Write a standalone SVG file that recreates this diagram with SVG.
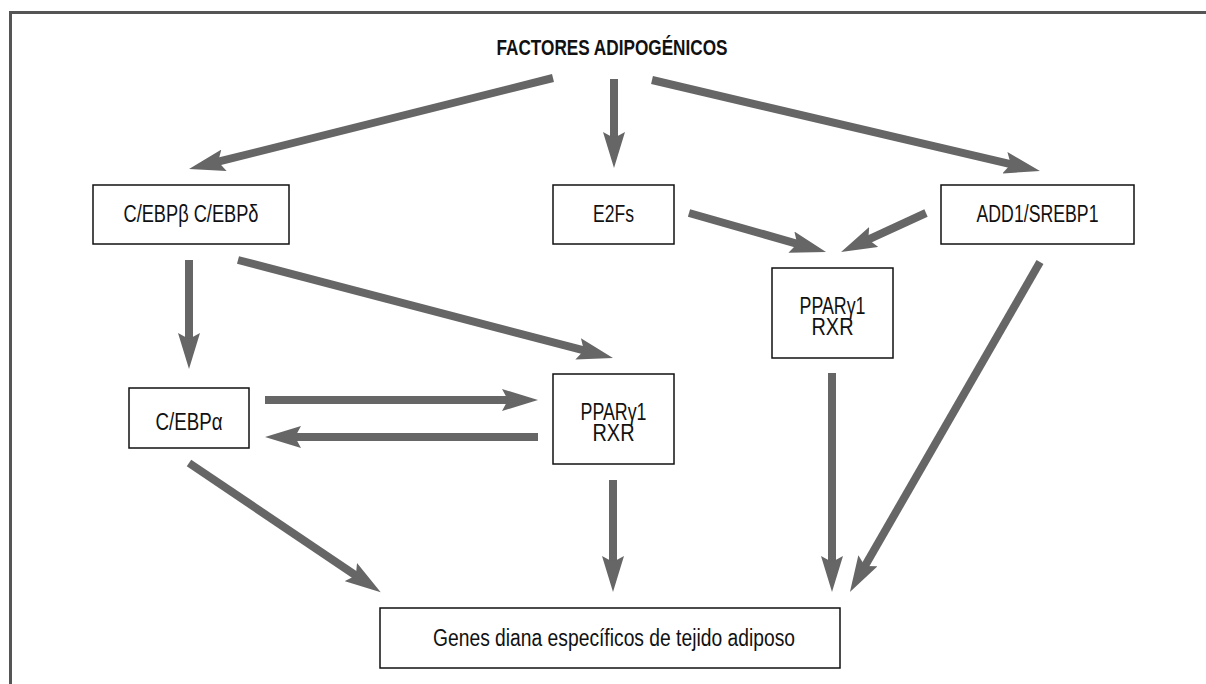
<svg xmlns="http://www.w3.org/2000/svg" width="1206" height="684" viewBox="0 0 1206 684">
<style>
.box{fill:#fff;stroke:#111;stroke-width:1.5}
.lbl{font-family:"Liberation Sans",Arial,sans-serif;font-size:23.5px;fill:#111;text-anchor:middle}
.title{font-family:"Liberation Sans",Arial,sans-serif;font-size:21.5px;font-weight:bold;fill:#111;text-anchor:middle}
.arr{stroke:#666;stroke-width:8;fill:none;marker-end:url(#ah)}
.frame{stroke:#555;stroke-width:3;fill:none}
</style>
<defs>
<marker id="ah" viewBox="0 0 36 22" markerWidth="36" markerHeight="22" markerUnits="userSpaceOnUse" refX="8" refY="11" orient="auto">
<path d="M0,0 L36,11 L0,22 L6,11 Z" fill="#666"/>
</marker>
</defs>
<rect width="1206" height="684" fill="#fff"/>
<path class="frame" d="M10.5,684 L10.5,12.5 L1206,12.5"/>
<g id="title"><text class="title" x="612" y="55" textLength="231" lengthAdjust="spacingAndGlyphs">FACTORES ADIPOGÉNICOS</text></g>
<g id="connectors">
<line class="arr" x1="553" y1="78" x2="216.2" y2="162.2"/>
<line class="arr" x1="614" y1="79" x2="614" y2="140"/>
<line class="arr" x1="652" y1="80" x2="1012.7" y2="164.6"/>
<line class="arr" x1="689" y1="213" x2="799.1" y2="244.3"/>
<line class="arr" x1="926" y1="213" x2="866.5" y2="240.3"/>
<line class="arr" x1="189" y1="260" x2="189" y2="341"/>
<line class="arr" x1="238" y1="260" x2="585.9" y2="350.9"/>
<line class="arr" x1="265" y1="400" x2="510" y2="400"/>
<line class="arr" x1="538" y1="437" x2="293" y2="437"/>
<line class="arr" x1="189" y1="463" x2="357.5" y2="576.6"/>
<line class="arr" x1="613" y1="480" x2="613" y2="564"/>
<line class="arr" x1="832" y1="373" x2="832" y2="564"/>
<line class="arr" x1="1040" y1="262" x2="863.9" y2="567.7"/>
</g>
<g id="cebpbd"><rect class="box" x="93" y="185" width="196" height="59"/><text class="lbl" x="191" y="221.5" textLength="135" lengthAdjust="spacingAndGlyphs">C/EBPβ  C/EBPδ</text></g>
<g id="e2fs"><rect class="box" x="553" y="185" width="121" height="59"/><text class="lbl" x="613.5" y="222" textLength="41" lengthAdjust="spacingAndGlyphs">E2Fs</text></g>
<g id="add1"><rect class="box" x="941" y="185" width="193" height="59"/><text class="lbl" x="1037.5" y="222" textLength="122" lengthAdjust="spacingAndGlyphs">ADD1/SREBP1</text></g>
<g id="ppar2"><rect class="box" x="772" y="268" width="121" height="90"/><text class="lbl" x="832.5" y="314" textLength="66" lengthAdjust="spacingAndGlyphs">PPARγ1</text><text class="lbl" x="832.5" y="335" textLength="42" lengthAdjust="spacingAndGlyphs">RXR</text></g>
<g id="cebpa"><rect class="box" x="129" y="388" width="120" height="60"/><text class="lbl" x="189" y="429.5" textLength="67" lengthAdjust="spacingAndGlyphs">C/EBPα</text></g>
<g id="ppar1"><rect class="box" x="553" y="374" width="121" height="90"/><text class="lbl" x="613.5" y="420" textLength="66" lengthAdjust="spacingAndGlyphs">PPARγ1</text><text class="lbl" x="613.5" y="441" textLength="42" lengthAdjust="spacingAndGlyphs">RXR</text></g>
<g id="genes"><rect class="box" x="380" y="608" width="460" height="60"/><text class="lbl" x="614" y="645.5" textLength="362" lengthAdjust="spacingAndGlyphs">Genes diana específicos de tejido adiposo</text></g>
</svg>
